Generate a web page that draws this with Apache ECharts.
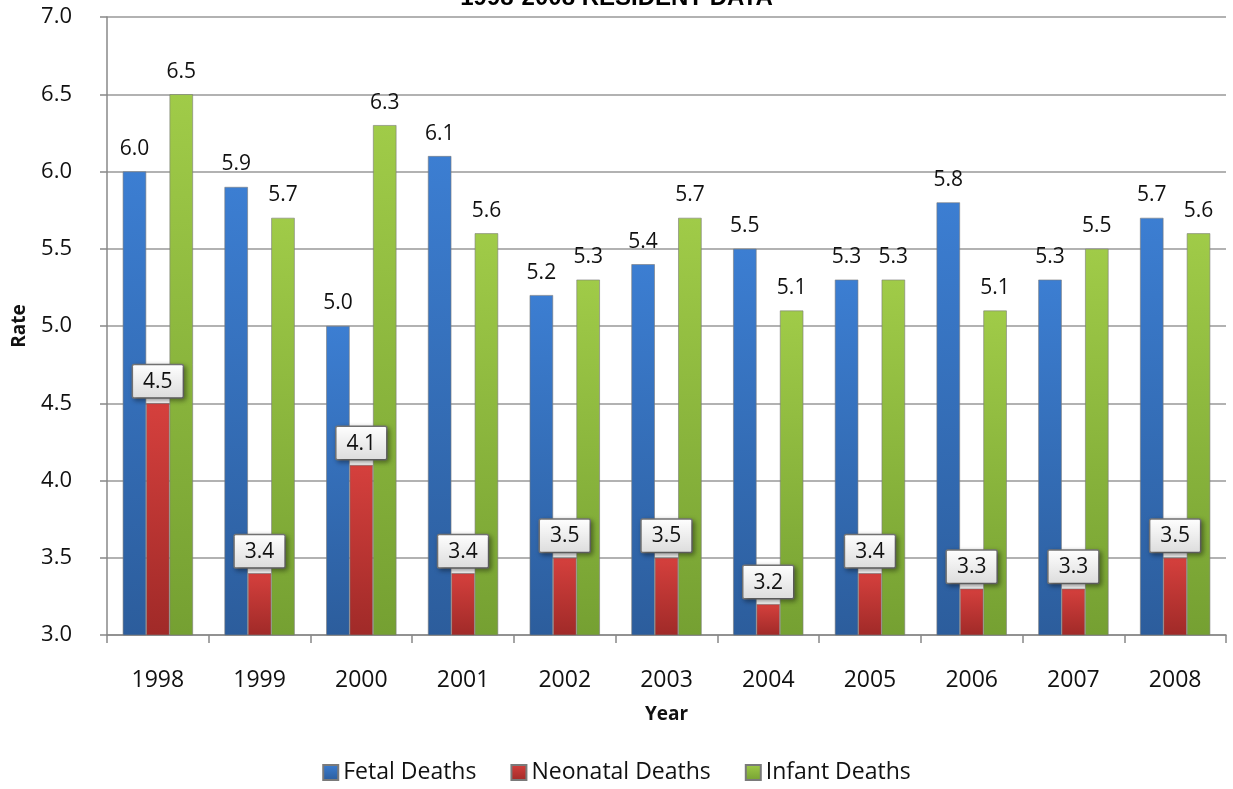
<!DOCTYPE html>
<html><head><meta charset="utf-8">
<script src="https://cdn.jsdelivr.net/npm/echarts@6/dist/echarts.min.js"></script>
<style>html,body{margin:0;padding:0;background:#fff}#c{width:1233px;height:789px}</style>
</head><body><div id="c"></div>
<script>
const years = ['1998','1999','2000','2001','2002','2003','2004','2005','2006','2007','2008'];
const fetal = [6.0, 5.9, 5.0, 6.1, 5.2, 5.4, 5.5, 5.3, 5.8, 5.3, 5.7];
const neonatal = [4.5, 3.4, 4.1, 3.4, 3.5, 3.5, 3.2, 3.4, 3.3, 3.3, 3.5];
const infant = [6.5, 5.7, 6.3, 5.6, 5.3, 5.7, 5.1, 5.3, 5.1, 5.5, 5.6];

const FONT = '"Open Sans", "Noto Sans", sans-serif';
function grad(top, bottom) {
  return new echarts.graphic.LinearGradient(0, 0, 0, 1, [{offset: 0, color: top}, {offset: 1, color: bottom}]);
}
const chart = echarts.init(document.getElementById('c'));
const topLabel = {show: true, position: 'top', distance: 12, color: '#111', fontSize: 21, fontFamily: FONT, formatter: p => p.value.toFixed(1)};
chart.setOption({
  animation: false,
  title: {text: '1998-2008 RESIDENT DATA', left: 'center', top: -19, textStyle: {fontSize: 24, fontWeight: 'bold', color: '#000', fontFamily: '"Liberation Sans", Arial, sans-serif'}},
  legend: {bottom: 0, left: 'center', itemWidth: 15, itemHeight: 15, itemGap: 34, textStyle: {fontSize: 23, color: '#111', fontFamily: FONT}, icon: 'rect'},
  grid: {left: 107, right: 7, top: 17, bottom: 154},
  xAxis: {type: 'category', data: years, name: 'Year', nameLocation: 'middle', nameGap: 70,
    nameTextStyle: {fontSize: 19, fontWeight: 'bold', color: '#111', fontFamily: FONT},
    axisLine: {lineStyle: {color: '#888', width: 1.5}}, axisTick: {show: true, length: 8, lineStyle: {color: '#888', width: 1.5}},
    axisLabel: {fontSize: 23, color: '#111', margin: 34, fontFamily: FONT}},
  yAxis: {type: 'value', min: 3, max: 7, interval: 0.5, name: 'Rate', nameLocation: 'middle', nameGap: 78,
    nameTextStyle: {fontSize: 19, fontWeight: 'bold', color: '#111', fontFamily: FONT},
    axisLine: {show: true, lineStyle: {color: '#888', width: 1.5}}, axisTick: {show: true, length: 7, lineStyle: {color: '#888', width: 1.5}},
    axisLabel: {fontSize: 22, color: '#111', margin: 35, fontFamily: FONT, formatter: v => v.toFixed(1)},
    splitLine: {lineStyle: {color: '#999', width: 1.5}}},
  series: [
    {name: 'Fetal Deaths', type: 'bar', data: fetal, barGap: '0%', barCategoryGap: '31%',
      itemStyle: {color: grad('#3C7ED2', '#2C5D9C'), borderColor: '#7a7a7a', borderWidth: 0.6}, label: topLabel},
    {name: 'Neonatal Deaths', type: 'bar', data: neonatal,
      itemStyle: {color: grad('#D5403D', '#A02A28'), borderColor: '#7a7a7a', borderWidth: 0.6},
      label: {show: true, position: 'top', distance: 6, color: '#111', fontSize: 21, fontFamily: FONT,
        formatter: p => p.value.toFixed(1),
        backgroundColor: grad('#FFFFFF', '#DCDCDC'), borderColor: '#777', borderWidth: 1.5, borderRadius: 1,
        padding: [6, 10, 5, 10], shadowColor: 'rgba(0,0,0,0.35)', shadowBlur: 5, shadowOffsetX: 2, shadowOffsetY: 2}},
    {name: 'Infant Deaths', type: 'bar', data: infant,
      itemStyle: {color: grad('#A0CB48', '#75A032'), borderColor: '#7a7a7a', borderWidth: 0.6}, label: topLabel}
  ]
});
</script></body></html>
